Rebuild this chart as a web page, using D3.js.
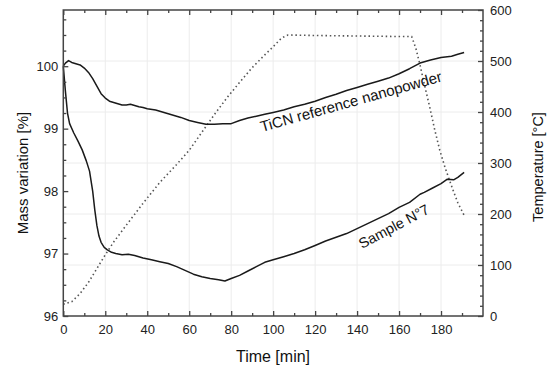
<!DOCTYPE html>
<html><head><meta charset="utf-8">
<script src="https://cdn.jsdelivr.net/npm/d3@7"></script>
<style>
html,body{margin:0;padding:0;background:#fff;}
svg{display:block;font-family:"Liberation Sans",Arial,sans-serif;}
</style></head>
<body>
<svg id="chart" width="548" height="368"></svg>
<script>
// ---- data ----
const ticnTime = [0,1,2.5,4,6,8,10,12,14,16,18,20,22,24,26,28,30,32,34,36,38,40,44,48,52,56,60,64,68,72,76,80,84,88,92,96,100,105,110,115,120,125,130,135,140,145,150,155,160,165,170,175,180,185,188,191];
const ticnMass = [100.00,100.05,100.09,100.06,100.04,100.02,99.97,99.90,99.80,99.68,99.56,99.49,99.44,99.42,99.40,99.38,99.38,99.39,99.37,99.35,99.34,99.32,99.30,99.26,99.22,99.18,99.13,99.10,99.07,99.07,99.08,99.08,99.13,99.17,99.20,99.23,99.26,99.30,99.35,99.39,99.44,99.50,99.55,99.61,99.66,99.71,99.76,99.81,99.88,99.96,100.05,100.10,100.14,100.16,100.19,100.22];

const sampleTime = [0,1,2,3,5,7,9,11,12.5,14,15,16,17,18,19.5,21,23,25,28,31,34,38,42,46,50,54,58,62,66,70,74,77,80,84,88,92,96,100,105,110,115,120,125,130,135,140,145,150,155,160,165,170,172,176,180,183,186,188,191];
const sampleMass = [100.00,99.60,99.25,99.08,98.93,98.80,98.66,98.48,98.32,98.00,97.70,97.45,97.28,97.18,97.10,97.06,97.02,97.00,96.98,96.99,96.97,96.93,96.90,96.87,96.84,96.79,96.73,96.67,96.63,96.60,96.58,96.56,96.60,96.65,96.72,96.79,96.86,96.90,96.95,97.00,97.06,97.13,97.20,97.26,97.32,97.40,97.48,97.56,97.64,97.74,97.82,97.95,97.98,98.05,98.12,98.19,98.18,98.22,98.30];

const tempTime = [0,4,8,12,16,20,24,30,38,46,54,60,66,72,78,84,90,96,100,104,107,120,140,160,166,168,170,172,174.6,177,179.4,182,185.7,188,191.3];
const tempValue = [23,28,44,66,93,120,145,178,221,262,297,325,360,395,428,458,487,512,528,545,551,550,549,548,548,525,492,455,410,365,325,290,247,222,195];

const xTickLabels = [0,20,40,60,80,100,120,140,160,180];
const massTickLabels = [96,97,98,99,100];
const tempTickLabels = [0,100,200,300,400,500,600];

// ---- layout ----
const svg = d3.select("#chart");
const L = 63.3, R = 483, T = 10, B = 316;
const x = d3.scaleLinear().domain([0,200]).range([L,R]);
const yM = d3.scaleLinear().domain([96,100.9]).range([B,T]);
const yT = d3.scaleLinear().domain([0,600]).range([B,T]);

const frameCol = "#444";
const gridCol = "#ececec";

// grid
const grid = svg.append("g");
xTickLabels.slice(1).forEach(v=>{
  grid.append("line").attr("x1",x(v)).attr("x2",x(v)).attr("y1",T).attr("y2",B)
    .attr("stroke",gridCol).attr("stroke-width",1);
});
tempTickLabels.slice(1,-1).forEach(v=>{
  grid.append("line").attr("x1",L).attr("x2",R).attr("y1",yT(v)).attr("y2",yT(v))
    .attr("stroke",gridCol).attr("stroke-width",1);
});

// curves
const lineM = (ts, ms) => d3.line().x((d,i)=>x(ts[i])).y(d=>yM(d))(ms);
svg.append("path").attr("d", d3.line().x((d,i)=>x(tempTime[i])).y(d=>yT(d))(tempValue))
  .attr("fill","none").attr("stroke","#555").attr("stroke-width",1.6)
  .attr("stroke-dasharray","1.5 2.8");
svg.append("path").attr("d", lineM(ticnTime, ticnMass))
  .attr("fill","none").attr("stroke","#1a1a1a").attr("stroke-width",1.5).attr("stroke-linejoin","round");
svg.append("path").attr("d", lineM(sampleTime, sampleMass))
  .attr("fill","none").attr("stroke","#1a1a1a").attr("stroke-width",1.5).attr("stroke-linejoin","round");

// axes (ticks inward)
const fs = 13;
const axB = d3.axisBottom(x).tickValues(xTickLabels).tickSize(-5).tickPadding(9).tickFormat(d3.format("d"));
const axBm = d3.axisBottom(x).tickValues(d3.range(10,200,20)).tickSize(-3).tickFormat("");
const axT = d3.axisTop(x).tickValues(xTickLabels).tickSize(-5).tickFormat("");
const axTm = d3.axisTop(x).tickValues(d3.range(10,200,20)).tickSize(-3).tickFormat("");
const axL = d3.axisLeft(yM).tickValues(massTickLabels).tickSize(-5).tickPadding(5).tickFormat(d3.format("d"));
const axLm = d3.axisLeft(yM).tickValues(d3.range(96.25,100.9,0.25).filter(v=>Math.abs(v-Math.round(v))>0.01)).tickSize(-3).tickFormat("");
const axR = d3.axisRight(yT).tickValues(tempTickLabels).tickSize(-5).tickPadding(7).tickFormat(d3.format("d"));
const axRm = d3.axisRight(yT).tickValues(d3.range(20,600,20).filter(v=>v%100!==0)).tickSize(-3).tickFormat("");

function style(g){
  g.select(".domain").remove();
  g.selectAll("line").attr("stroke",frameCol).attr("stroke-width",1.3);
  g.selectAll("text").attr("font-size",fs).attr("fill","#222").attr("font-family","Liberation Sans, Arial, sans-serif");
}
svg.append("g").attr("transform",`translate(0,${B})`).call(axB).call(style);
svg.append("g").attr("transform",`translate(0,${B})`).call(axBm).call(style);
svg.append("g").attr("transform",`translate(0,${T})`).call(axT).call(style);
svg.append("g").attr("transform",`translate(0,${T})`).call(axTm).call(style);
svg.append("g").attr("transform",`translate(${L},0)`).call(axL).call(style);
svg.append("g").attr("transform",`translate(${L},0)`).call(axLm).call(style);
svg.append("g").attr("transform",`translate(${R},0)`).call(axR).call(style);
svg.append("g").attr("transform",`translate(${R},0)`).call(axRm).call(style);

// frame
svg.append("rect").attr("x",L).attr("y",T).attr("width",R-L).attr("height",B-T)
  .attr("fill","none").attr("stroke",frameCol).attr("stroke-width",1.5);

// axis titles
svg.append("text").attr("x",273).attr("y",361.5).attr("text-anchor","middle")
  .attr("font-size",16).attr("fill","#111").text("Time [min]");
svg.append("text").attr("transform","translate(28,173) rotate(-90)").attr("text-anchor","middle")
  .attr("font-size",15).attr("fill","#111").text("Mass variation [%]");
svg.append("text").attr("transform","translate(543,167) rotate(-90)").attr("text-anchor","middle")
  .attr("font-size",14.5).attr("fill","#111").text("Temperature [°C]");

// curve labels
svg.append("text").attr("transform","translate(262,132) rotate(-15.7)")
  .attr("font-size",15).attr("fill","#111").text("TiCN reference nanopowder");
svg.append("text").attr("transform","translate(362,249) rotate(-28)")
  .attr("font-size",14.5).attr("fill","#111").text("Sample N°7");
</script>
</body></html>
